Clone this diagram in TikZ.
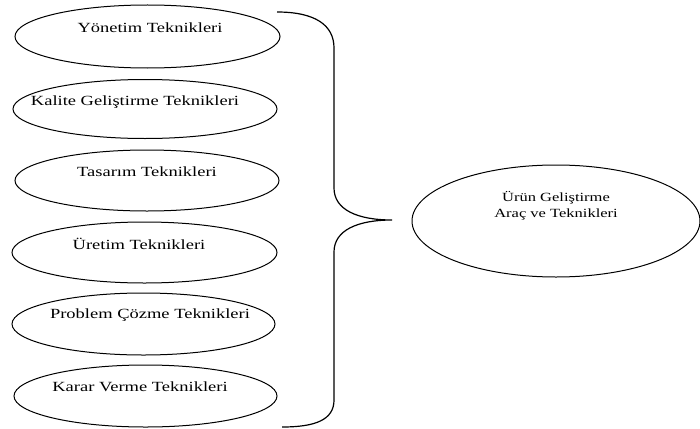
\documentclass[tikz,border=0pt]{standalone}
\usepackage{fontspec}
\setmainfont{Liberation Serif}[FakeStretch=1.32]
\usetikzlibrary{shapes.geometric}
\begin{document}
\begin{tikzpicture}[x=1pt,y=-1pt,
  oval/.style={draw=black,line width=1pt,ellipse,inner sep=0pt},
  txt/.style={inner sep=0pt,font=\fontsize{14}{15}\selectfont},
  bigtxt/.style={inner sep=0pt,align=center,font=\fontsize{12.5}{15.5}\selectfont},
  brace/.style={draw=black,line width=1.2pt}]
\useasboundingbox[fill=white] (0,0) rectangle (700,428);

% technique ellipses on the left
\node[oval,minimum width=265pt,minimum height=63pt] (e1) at (147.5,36.5) {};
\node[oval,minimum width=264pt,minimum height=59pt] (e2) at (145,109) {};
\node[oval,minimum width=264pt,minimum height=61pt] (e3) at (147,180.5) {};
\node[oval,minimum width=265pt,minimum height=61pt] (e4) at (144.5,252.5) {};
\node[oval,minimum width=263pt,minimum height=62pt] (e5) at (143.5,324) {};
\node[oval,minimum width=263pt,minimum height=62pt] (e6) at (145.5,396) {};

\node[txt] (t1) at (150,28) {Yönetim Teknikleri};
\node[txt] (t2) at (135,102) {Kalite Geliştirme Teknikleri};
\node[txt] (t3) at (147,172) {Tasarım Teknikleri};
\node[txt] (t4) at (139,244) {Üretim Teknikleri};
\node[txt] (t5) at (150,315) {Problem Çözme Teknikleri};
\node[txt] (t6) at (140,387) {Karar Verme Teknikleri};

% main ellipse on the right
\node[oval,minimum width=288pt,minimum height=112pt] (m) at (556,221) {};
\node[bigtxt] (mt) at (556,206) {Ürün Geliştirme\\Araç ve Teknikleri};

% the curly brace gathering the techniques
\coordinate (tip) at (392,220);
\coordinate (btop) at (277,12);
\coordinate (bbot) at (282,427);
\draw[brace] (btop) .. controls (315,12) and (334,25) .. (334,48)
  -- (334,188) .. controls (334,210) and (358,220) .. (tip)
  .. controls (358,220) and (334,230) .. (334,252)
  -- (334,400) .. controls (334,420) and (315,427) .. (bbot);
\end{tikzpicture}
\end{document}
